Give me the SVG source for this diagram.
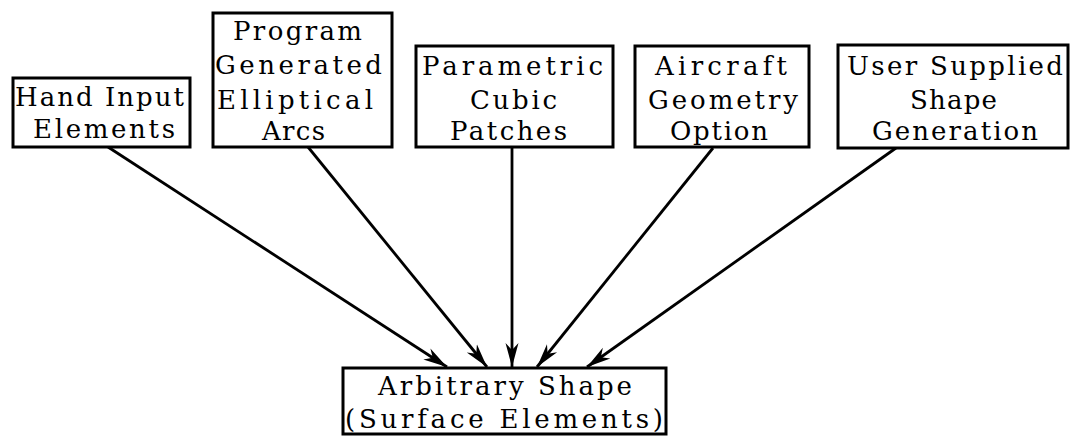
<svg xmlns="http://www.w3.org/2000/svg" width="1071" height="437" viewBox="0 0 1071 437">
<defs>
<style>
.box{fill:#fff;stroke:#000;stroke-width:3}
.t{font-family:"DejaVu Serif","Liberation Serif",serif;font-size:26px;fill:#000}
.c{stroke:#000;stroke-width:2.8;fill:none;marker-end:url(#ah)}
</style>
<marker id="ah" markerUnits="userSpaceOnUse" markerWidth="26" markerHeight="16" refX="24" refY="8" orient="auto">
<path d="M0,1.5 L24,8 L0,14.5 L7,8 Z" fill="#000"/>
</marker>
</defs>
<rect width="1071" height="437" fill="#fff"/>
<g id="connectors">
<line class="c" x1="108" y1="147" x2="447" y2="367"/>
<line class="c" x1="308" y1="147" x2="487" y2="367"/>
<line class="c" x1="512" y1="148" x2="512" y2="367"/>
<line class="c" x1="713" y1="148" x2="537" y2="367"/>
<line class="c" x1="896" y1="148" x2="587" y2="367"/>
</g>
<g id="hand">
<rect class="box" x="13" y="78" width="177" height="69"/>
<text class="t" x="15" y="106" textLength="169" lengthAdjust="spacing">Hand Input</text>
<text class="t" x="33" y="138" textLength="142" lengthAdjust="spacing">Elements</text>
</g>
<g id="program">
<rect class="box" x="213" y="13" width="179" height="134"/>
<text class="t" x="233" y="40" textLength="129" lengthAdjust="spacing">Program</text>
<text class="t" x="215" y="74" textLength="167" lengthAdjust="spacing">Generated</text>
<text class="t" x="217" y="109" textLength="156" lengthAdjust="spacing">Elliptical</text>
<text class="t" x="262" y="140" textLength="63" lengthAdjust="spacing">Arcs</text>
</g>
<g id="parametric">
<rect class="box" x="416" y="46" width="197" height="101"/>
<text class="t" x="422" y="75" textLength="181" lengthAdjust="spacing">Parametric</text>
<text class="t" x="470" y="109" textLength="87" lengthAdjust="spacing">Cubic</text>
<text class="t" x="450" y="140" textLength="117" lengthAdjust="spacing">Patches</text>
</g>
<g id="aircraft">
<rect class="box" x="635" y="46" width="174" height="101"/>
<text class="t" x="655" y="75" textLength="132" lengthAdjust="spacing">Aircraft</text>
<text class="t" x="648" y="109" textLength="150" lengthAdjust="spacing">Geometry</text>
<text class="t" x="670" y="140" textLength="98" lengthAdjust="spacing">Option</text>
</g>
<g id="user">
<rect class="box" x="838" y="45" width="230" height="103"/>
<text class="t" x="847" y="75" textLength="216" lengthAdjust="spacing">User Supplied</text>
<text class="t" x="910" y="109" textLength="87" lengthAdjust="spacing">Shape</text>
<text class="t" x="872" y="140" textLength="166" lengthAdjust="spacing">Generation</text>
</g>
<g id="arbitrary">
<rect class="box" x="343" y="368" width="323" height="66"/>
<text class="t" x="378" y="395" textLength="254" lengthAdjust="spacing">Arbitrary Shape</text>
<text class="t" x="345" y="428" textLength="318" lengthAdjust="spacing">(Surface Elements)</text>
</g>
</svg>
